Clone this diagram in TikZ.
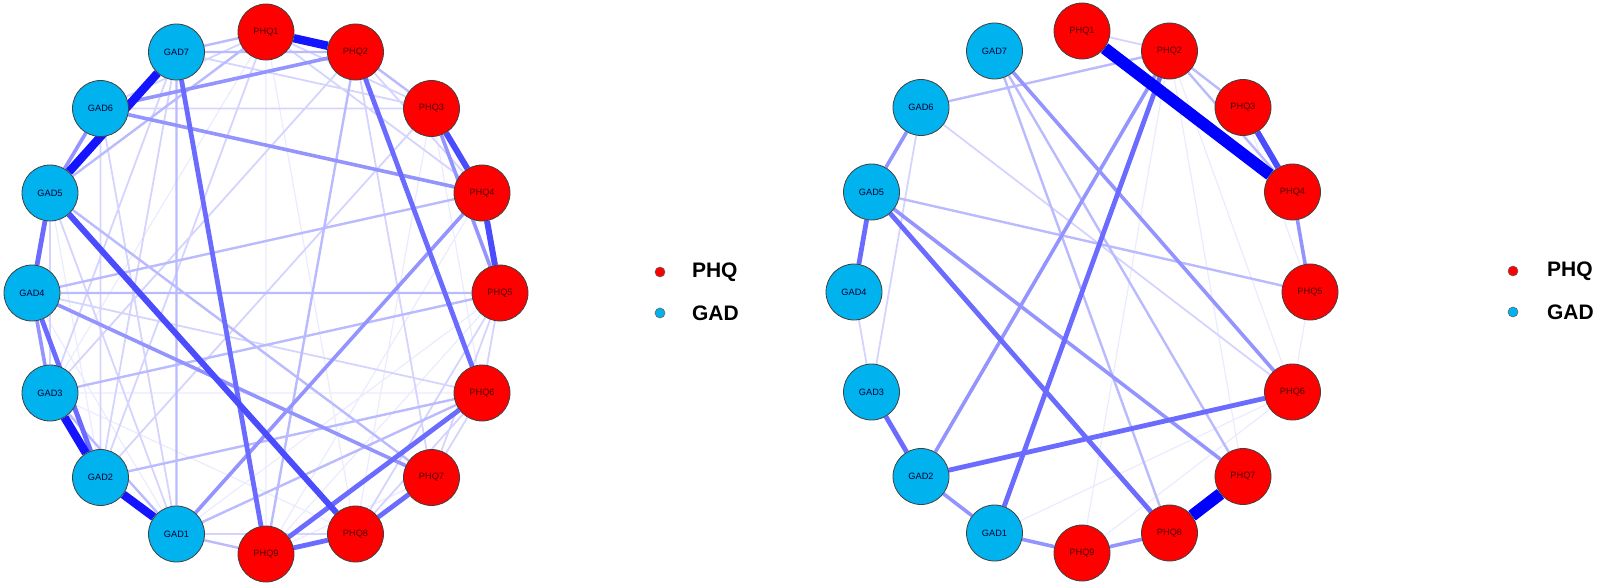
\documentclass[tikz,border=0pt]{standalone}
\usepackage{fontspec}
\setmainfont{Liberation Sans}
\usepackage{xcolor}
\usepackage{tikz}
\definecolor{gadblue}{RGB}{0,178,238}
\pgfdeclarelayer{edges}
\pgfsetlayers{edges,main}

\begin{document}
\begin{tikzpicture}[x=0.5pt,y=-0.5pt,
  phq/.style={circle,draw=black!75,line width=0.4pt,fill=red,minimum size=28pt,inner sep=0pt,
    text=black!70!red,font=\fontsize{4.6}{5}\selectfont},
  gad/.style={circle,draw=black!75,line width=0.4pt,fill=gadblue,minimum size=28pt,inner sep=0pt,
    text=black!80!blue,font=\fontsize{4.6}{5}\selectfont},
  ea/.style={blue!8,line width=0.6pt},
  eb/.style={blue!17,line width=0.9pt},
  ec/.style={blue!27,line width=1.2pt},
  ed/.style={blue!42,line width=1.8pt},
  ee/.style={blue!58,line width=2.4pt},
  ef/.style={blue!70,line width=3pt},
  eg/.style={blue!92,line width=4.2pt},
  eh/.style={blue,line width=6pt},
  dot/.style={circle,draw=black!60,line width=0.3pt,minimum size=5pt,inner sep=0pt},
  key/.style={anchor=west,font=\fontsize{10.5}{12}\selectfont\bfseries}]
\useasboundingbox (0,0) rectangle (1600,584);

% left network
\node[phq] (lP1) at (266,32) {PHQ1};
\node[phq] (lP2) at (355.5,52) {PHQ2};
\node[phq] (lP3) at (431.5,108.5) {PHQ3};
\node[phq] (lP4) at (482,193) {PHQ4};
\node[phq] (lP5) at (500,293) {PHQ5};
\node[phq] (lP6) at (482,393) {PHQ6};
\node[phq] (lP7) at (431.5,477.5) {PHQ7};
\node[phq] (lP8) at (355.5,534) {PHQ8};
\node[phq] (lP9) at (266,554) {PHQ9};
\node[gad] (lG1) at (176.5,534) {GAD1};
\node[gad] (lG2) at (100.5,477.5) {GAD2};
\node[gad] (lG3) at (50,393) {GAD3};
\node[gad] (lG4) at (32,293) {GAD4};
\node[gad] (lG5) at (50,193) {GAD5};
\node[gad] (lG6) at (100.5,108.5) {GAD6};
\node[gad] (lG7) at (176.5,52) {GAD7};

% right network
\node[phq] (rP1) at (1082,31) {PHQ1};
\node[phq] (rP2) at (1169.5,51) {PHQ2};
\node[phq] (rP3) at (1243,107.5) {PHQ3};
\node[phq] (rP4) at (1292.5,192) {PHQ4};
\node[phq] (rP5) at (1310,292) {PHQ5};
\node[phq] (rP6) at (1292.5,392) {PHQ6};
\node[phq] (rP7) at (1243,476.5) {PHQ7};
\node[phq] (rP8) at (1169.5,533) {PHQ8};
\node[phq] (rP9) at (1082,553) {PHQ9};
\node[gad] (rG1) at (994.5,533) {GAD1};
\node[gad] (rG2) at (921,476.5) {GAD2};
\node[gad] (rG3) at (871.5,392) {GAD3};
\node[gad] (rG4) at (854,292) {GAD4};
\node[gad] (rG5) at (871.5,192) {GAD5};
\node[gad] (rG6) at (921,107.5) {GAD6};
\node[gad] (rG7) at (994.5,51) {GAD7};

\begin{pgfonlayer}{edges}
% left edges, faint first
\draw[ea] (lP1)--(lP8) (lP3)--(lP8) (lP4)--(lP9) (lP5)--(lP9) (lP5)--(lG1)
  (lP6)--(lG3) (lP1)--(lP9) (lG4)--(lG1) (lG5)--(lG2) (lP7)--(lP9)
  (lP3)--(lP6) (lP1)--(lG3) (lP8)--(lG3);
\draw[eb] (lG7)--(lG2) (lG6)--(lG2) (lG6)--(lG1) (lG5)--(lG3) (lG5)--(lG1)
  (lG7)--(lP3) (lG6)--(lP1) (lP2)--(lG3) (lP1)--(lG2) (lP3)--(lG2)
  (lG1)--(lP8) (lP6)--(lP7) (lP5)--(lP7) (lP1)--(lP4) (lP2)--(lP4)
  (lG6)--(lP3) (lP5)--(lP8) (lP2)--(lP7) (lG4)--(lP6) (lG7)--(lG3)
  (lP6)--(lP8) (lP5)--(lP6) (lP1)--(lP3);
\draw[ec] (lG4)--(lP5) (lG4)--(lP4) (lG3)--(lP5) (lG2)--(lP6) (lG7)--(lP1)
  (lG5)--(lP1) (lP2)--(lP9) (lP2)--(lP3) (lG1)--(lP9)
  (lG1)--(lP6) (lG5)--(lP7) (lG7)--(lP2) (lG7)--(lG1) (lG3)--(lG1);
\draw[ed] (lG6)--(lP4) (lG4)--(lP7) (lG6)--(lP2) (lG1)--(lP4) (lG6)--(lG5)
  (lG4)--(lG3) (lP3)--(lP5);
\draw[ee] (lG7)--(lP9) (lP2)--(lP6) (lP9)--(lP6) (lP9)--(lP8) (lG5)--(lG4)
  (lG4)--(lG2) (lP8)--(lP7);
\draw[ef] (lG5)--(lP8) (lP3)--(lP4) (lP4)--(lP5);
\draw[eg] (lP1)--(lP2) (lG7)--(lG5) (lG3)--(lG2) (lG2)--(lG1);

% right edges
\draw[ea] (rP2)--(rP7) (rP2)--(rP9) (rG1)--(rP6) (rP3)--(rP5) (rP2)--(rP6)
  (rP9)--(rP6) (rP5)--(rP6);
\draw[eb] (rG6)--(rG3) (rG6)--(rP6) (rG4)--(rG3) (rP1)--(rP2);
\draw[ec] (rG5)--(rP5) (rP2)--(rP4) (rG7)--(rP8) (rG7)--(rP7) (rP2)--(rP3)
  (rP2)--(rG6);
\draw[ed] (rP2)--(rG2) (rG6)--(rG5) (rG5)--(rP7) (rG7)--(rP6) (rG2)--(rG1)
  (rG1)--(rP9) (rP9)--(rP8) (rP4)--(rP5);
\draw[ee] (rP2)--(rG1) (rG5)--(rG4) (rG3)--(rG2) (rG2)--(rP6) (rG5)--(rP8);
\draw[ef] (rP3)--(rP4);
\draw[eh] (rP1)--(rP4) (rP8)--(rP7);
\end{pgfonlayer}

% legends
\node[dot,fill=red] (lkP) at (660,272) {};
\node[key] (ltP) at (685,272) {PHQ};
\node[dot,fill=gadblue] (lkG) at (660,313) {};
\node[key] (ltG) at (685,313) {GAD};
\node[dot,fill=red] (rkP) at (1513,271) {};
\node[key] (rtP) at (1540,271) {PHQ};
\node[dot,fill=gadblue] (rkG) at (1513,312) {};
\node[key] (rtG) at (1540,312) {GAD};
\end{tikzpicture}
\end{document}
